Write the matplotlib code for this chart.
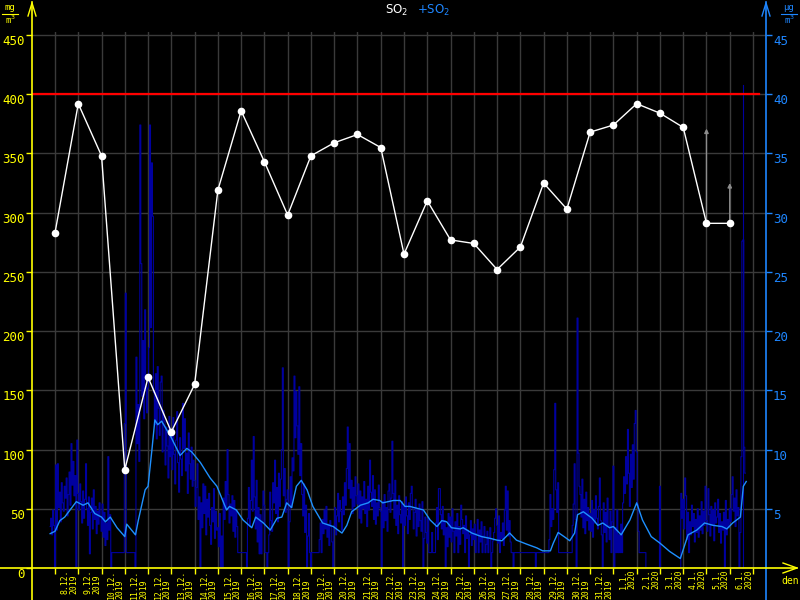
"""
SO2 daily values (white, left axis) with hourly +SO2 and its running mean
(blue, right axis) on a black monitoring-station style chart.
"""

import matplotlib
matplotlib.use("Agg")
import matplotlib.pyplot as plt
from matplotlib.lines import Line2D
from matplotlib.transforms import blended_transform_factory
import numpy as np

# ── Colours ───────────────────────────────────────────────────────────────────
BG          = "#000000"
YELLOW      = "#FFFF00"
AXIS_BLUE   = "#1E86FF"
AVG_BLUE    = "#1E90FF"
HOURLY_BLUE = "#0000A0"
GRID        = "#3A3A3A"
RED         = "#FF0000"
ARROW_GREY  = "#8C8C8C"

# ── Data ──────────────────────────────────────────────────────────────────────
day_labels = [
    "8.12.\n2019", "9.12.\n2019", "10.12.\n2019", "11.12.\n2019",
    "12.12.\n2019", "13.12.\n2019", "14.12.\n2019", "15.12.\n2019",
    "16.12.\n2019", "17.12.\n2019", "18.12.\n2019", "19.12.\n2019",
    "20.12.\n2019", "21.12.\n2019", "22.12.\n2019", "23.12.\n2019",
    "24.12.\n2019", "25.12.\n2019", "26.12.\n2019", "27.12.\n2019",
    "28.12.\n2019", "29.12.\n2019", "30.12.\n2019", "31.12.\n2019",
    "1.1.\n2020", "2.1.\n2020", "3.1.\n2020", "4.1.\n2020",
    "5.1.\n2020", "6.1.\n2020",
]

# daily SO2 (left axis)
daily_so2 = [283, 392, 348, 83, 161, 115, 155, 319, 386, 343,
             298, 348, 359, 366, 355, 265, 310, 277, 274, 252,
             271, 325, 303, 368, 374, 392, 384, 372, 291, 291]

# incomplete days: grey arrow from the point up to this value
open_days = [28, 29]
open_tops = [371, 325]

limit_value = 400

# hourly +SO2 (right axis), first value at hour -5 relative to 8.12. 00:00
hour_start = -5
hourly_pre = [3.5, 4.2, 2.8, 4.9, 3.6]
hourly_days = [
    [0, 8.7, 3.2, 8.8, 5.1, 6.4, 3.9, 7.2, 5.5, 4.8, 6.9, 5.9,
     7.6, 4.4, 6.2, 8.1, 5.3, 10.5, 7.0, 9.0, 6.1, 7.8, 0, 10.8],
    [6.3, 4.9, 7.1, 5.6, 3.8, 6.5, 4.2, 5.8, 8.8, 5.0, 3.6, 6.0,
     1.2, 4.7, 5.9, 3.3, 6.6, 4.1, 5.2, 2.9, 4.8, 3.7, 5.5, 4.3],
    [3.1, 5.4, 2.6, 4.7, 1.9, 3.8, 2.4, 9.4, 3.2, 4.5, 0, 1.3,
     1.3, 1.3, 1.3, 1.3, 1.3, 1.3, 1.3, 1.3, 1.3, 1.3, 1.3, 1.3],
    [12.2, 23.2, 1.3, 1.3, 1.3, 1.3, 1.3, 1.3, 1.3, 1.3, 1.3, 0,
     17.8, 10.5, 13.8, 9.0, 37.4, 25.7, 14.5, 19.2, 12.6, 21.8, 16.3, 13.1],
    [15.2, 18.6, 37.4, 20.3, 34.2, 29.7, 14.8, 12.1, 16.4, 10.9, 17.0, 13.5,
     11.2, 15.7, 16.2, 9.8, 13.3, 12.4, 8.7, 11.9, 10.3, 7.6, 12.8, 9.4],
    [11.5, 8.3, 12.7, 9.6, 7.1, 10.8, 13.2, 8.9, 6.4, 11.0, 9.2, 7.8,
     13.9, 10.1, 12.6, 8.2, 9.7, 6.3, 11.4, 8.8, 7.5, 10.2, 6.9, 9.1],
    [7.4, 5.2, 6.8, 8.8, 4.1, 6.0, 0, 5.5, 3.4, 7.1, 4.6, 6.9,
     2.8, 5.8, 4.3, 6.3, 3.6, 2.0, 5.1, 3.9, 6.7, 2.5, 4.8, 3.2],
    [3.4, 1.8, 4.6, 0, 2.7, 0, 5.9, 4.1, 7.3, 5.0, 10.0, 6.2,
     3.8, 5.4, 4.4, 6.1, 3.1, 5.7, 2.6, 4.9, 3.5, 1.3, 1.3, 1.3],
    [1.3, 1.3, 1.3, 1.3, 1.3, 1.3, 0, 4.2, 6.8, 3.5, 5.7, 9.1,
     4.8, 11.1, 6.0, 3.3, 7.4, 2.2, 5.1, 1.2, 4.5, 1.2, 3.8, 6.5],
    [5.3, 1.3, 1.3, 0, 1.3, 2.8, 6.4, 4.0, 3.1, 7.2, 5.5, 9.1,
     4.6, 6.8, 3.9, 8.0, 5.2, 7.5, 10.0, 16.9, 6.1, 8.4, 4.7, 5.8],
    [6.6, 0, 3.9, 7.7, 5.1, 9.3, 8.2, 16.2, 11.0, 14.9, 12.0, 9.6,
     15.3, 7.8, 10.5, 6.2, 4.4, 7.1, 3.0, 5.3, 0, 2.7, 4.6, 1.3],
    [0, 1.3, 1.3, 1.3, 1.3, 1.3, 1.3, 1.3, 1.3, 2.4, 3.8, 1.3,
     4.1, 2.9, 4.9, 3.3, 5.2, 2.6, 3.7, 1.9, 4.0, 3.5, 2.2, 0],
    [3.6, 5.1, 2.8, 4.4, 6.3, 3.9, 5.7, 4.8, 3.2, 6.0, 4.5, 7.2,
     5.3, 8.4, 11.9, 6.7, 10.5, 5.9, 7.4, 4.6, 6.8, 5.2, 7.7, 6.1],
    [5.4, 7.1, 4.2, 6.5, 3.8, 6.0, 5.0, 7.3, 4.6, 5.8, 3.5, 6.9,
     4.9, 9.1, 6.4, 5.2, 7.8, 4.1, 6.6, 3.7, 5.5, 4.4, 7.0, 5.1],
    [4.8, 0, 5.6, 3.4, 6.2, 4.0, 5.1, 3.1, 6.5, 7.1, 4.7, 5.9,
     10.7, 6.3, 4.2, 7.4, 3.6, 5.3, 2.9, 6.1, 4.5, 3.8, 5.6, 0],
    [5.2, 3.6, 6.0, 4.4, 2.9, 5.5, 4.1, 6.3, 6.9, 5.0, 3.3, 4.7,
     5.8, 2.7, 4.9, 3.5, 5.4, 4.0, 3.1, 5.6, 0, 2.5, 4.3, 3.0],
    [2.1, 4.2, 1.3, 1.3, 1.3, 3.0, 1.3, 1.3, 1.3, 3.8, 5.1, 2.4,
     6.7, 6.7, 4.5, 3.3, 5.2, 2.8, 4.0, 0, 3.4, 1.8, 4.6, 2.6],
    [4.3, 2.2, 5.0, 3.1, 1.3, 3.9, 2.7, 4.6, 1.3, 3.5, 2.0, 5.3,
     4.1, 2.9, 3.6, 1.3, 4.4, 2.5, 3.2, 0, 2.8, 4.0, 1.9, 3.3],
    [2.4, 3.7, 1.3, 2.9, 4.1, 1.3, 3.2, 2.2, 3.9, 1.3, 2.7, 3.5,
     1.3, 2.0, 3.1, 1.3, 2.6, 3.4, 0, 1.3, 2.3, 3.0, 4.2, 5.0],
    [3.6, 2.1, 4.4, 1.3, 3.0, 2.5, 3.8, 1.9, 4.9, 6.9, 3.2, 6.5,
     2.7, 4.0, 2.2, 1.3, 1.3, 0, 1.3, 1.3, 1.3, 1.3, 1.3, 1.3],
    [1.3, 1.3, 1.3, 1.3, 1.3, 1.3, 1.3, 1.3, 1.3, 1.3, 1.3, 1.3,
     1.3, 1.3, 1.3, 1.3, 0, 1.3, 1.3, 1.3, 1.3, 1.3, 1.3, 1.3],
    [1.3, 1.3, 1.3, 1.3, 1.3, 1.3, 2.4, 6.2, 3.5, 5.0, 4.1, 8.3,
     13.9, 6.6, 4.7, 7.2, 1.3, 1.3, 1.3, 1.3, 1.3, 1.3, 1.3, 1.3],
    [1.3, 1.3, 1.3, 1.3, 1.3, 1.3, 3.6, 5.4, 8.8, 4.1, 0, 21.1,
     9.7, 6.9, 6.2, 4.3, 7.5, 3.4, 5.8, 2.9, 6.4, 4.0, 5.1, 3.2],
    [4.6, 3.1, 5.7, 2.6, 4.9, 3.8, 6.1, 4.2, 3.3, 5.2, 7.6, 4.0,
     2.8, 0, 5.5, 3.0, 4.7, 2.2, 5.9, 3.6, 2.4, 4.8, 1.3, 3.9],
    [8.6, 0, 3.4, 1.3, 4.9, 1.3, 2.8, 1.3, 3.7, 1.3, 5.5, 7.7,
     6.3, 9.4, 7.1, 11.7, 8.0, 5.2, 9.6, 6.8, 10.4, 7.5, 12.2, 13.3],
    [9.8, 5.4, 3.1, 1.3, 1.3, 1.3, 1.3, 1.3, 1.3, 1.3, 0, 0,
     0, 0, 0, 0, 0, 0, 0, 0, 0, 0, 0, 0],
    [6.9, 0, 0, 0, 0, 0, 0, 0, 0, 0, 0, 0,
     0, 0, 0, 0, 0, 0, 0, 0, 0, 0, 6.3, 4.2],
    [5.8, 3.3, 7.6, 6.1, 2.4, 4.7, 1.3, 3.9, 2.8, 5.3, 3.5, 4.6,
     2.2, 4.1, 3.0, 5.0, 2.6, 4.4, 3.2, 5.6, 2.9, 4.8, 3.6, 6.9],
    [4.0, 3.1, 6.7, 4.5, 2.7, 5.2, 3.6, 4.9, 2.3, 5.5, 3.8, 4.3,
     5.8, 3.0, 4.6, 2.1, 3.9, 3.2, 4.7, 0, 5.7, 2.8, 4.1, 3.4],
    [5.0, 3.9, 6.2, 7.7, 4.8, 5.9, 3.5, 6.6, 4.4, 5.1, 0, 3.0,
     9.4, 27.6, 27.7, 10.2, 8.0],
]

# running mean of +SO2 (right axis), hour / value pairs
avg_hours = [-5, 0, 5, 10, 22, 29, 34, 41, 48, 52, 57, 64, 72, 74, 83, 86,
             93, 96, 100, 103, 106, 110, 115, 120, 129, 136, 141, 150, 160,
             167, 177, 180, 187, 194, 203, 207, 215, 222, 229, 234, 239, 244,
             249, 254, 260, 266, 276, 287, 296, 301, 306, 315, 323, 328, 335,
             338, 349, 356, 361, 366, 380, 387, 394, 399, 404, 409, 418, 421,
             430, 440, 449, 456, 461, 469, 476, 487, 497, 503, 511, 514, 519,
             526, 531, 536, 539, 545, 554, 560, 565, 572, 576, 584, 593, 600,
             606, 615, 624, 634, 645, 653, 662, 670, 679, 688, 693, 699, 707,
             710, 713]
avg_vals = [2.9, 3.1, 4.0, 4.3, 5.6, 5.3, 5.5, 4.6, 4.3, 3.9, 4.3, 3.4, 2.65,
            3.7, 2.8, 4.05, 6.6, 6.9, 10.0, 12.5, 12.1, 12.4, 11.7, 11.0, 9.5,
            10.1, 9.8, 8.9, 7.6, 6.9, 4.9, 5.2, 4.9, 4.05, 3.4, 4.3, 3.8, 3.2,
            4.2, 4.3, 5.5, 5.1, 6.9, 7.4, 6.6, 5.2, 3.8, 3.5, 2.95, 3.6, 4.75,
            5.3, 5.5, 5.8, 5.7, 5.5, 5.7, 5.7, 5.2, 5.2, 4.9, 4.05, 3.5, 4.0,
            3.9, 3.4, 3.3, 3.4, 2.95, 2.65, 2.5, 2.35, 2.3, 2.95, 2.35, 2.0,
            1.7, 1.45, 1.45, 2.1, 3.0, 2.6, 2.3, 2.95, 4.5, 4.75, 4.2, 3.6,
            3.8, 3.4, 3.5, 2.8, 4.05, 5.5, 4.05, 2.65, 2.1, 1.4, 0.8, 2.8, 3.2,
            3.8, 3.6, 3.5, 3.3, 3.8, 4.3, 6.9, 7.3]

# current-time marker (right axis units)
now_hour = 709.5
now_top = 40.8

# ── Layout (pixels of the 800x600 canvas) ─────────────────────────────────────
W, H = 800, 600
AX_L, AX_R, AX_T, AX_B = 32, 766, 32, 568
PX_PER_DAY = 23.267
DAY0_PX = 55


def fx(px):
    return px / W


def fy(py):
    return 1 - py / H


def axx(px):
    return (px - AX_L) / (AX_R - AX_L)


def axy(py):
    return (AX_B - py) / (AX_B - AX_T)


fig = plt.figure(figsize=(W / 100, H / 100), dpi=100, facecolor=BG)
ax = fig.add_axes([fx(AX_L), fy(AX_B), (AX_R - AX_L) / W, (AX_B - AX_T) / H])
ax.set_facecolor(BG)
ax2 = ax.twinx()

ymax_left = 50 * (AX_B - AX_T) / ((AX_B - 35) / 9)
ax.set_ylim(0, ymax_left)
ax2.set_ylim(0, ymax_left / 10)
ax.set_xlim((AX_L - DAY0_PX) / PX_PER_DAY, (AX_R - DAY0_PX) / PX_PER_DAY)
ax.set_autoscale_on(False)
ax2.set_autoscale_on(False)

for a in (ax, ax2):
    for spine in a.spines.values():
        spine.set_visible(False)

# ── Grid & ticks ──────────────────────────────────────────────────────────────
ax.set_xticks(range(len(day_labels) + 1))
ax.set_xticklabels([])
ax.tick_params(axis="x", colors=YELLOW, length=4, width=1, direction="out")
ax.grid(True, color=GRID, linewidth=1.0)
ax.set_axisbelow(True)

ax.set_yticks(range(0, 451, 50))
ax.tick_params(axis="y", colors=YELLOW, length=4, width=1, pad=1,
               labelsize=9)
for t in ax.yaxis.get_major_ticks():
    t.label1.set_verticalalignment("top")
    t.label1.set_fontfamily("DejaVu Sans Mono")

ax2.set_yticks(range(5, 46, 5))
ax2.tick_params(axis="y", colors=AXIS_BLUE, length=4, width=1, pad=1,
                labelsize=9)
for t in ax2.yaxis.get_major_ticks():
    t.label2.set_verticalalignment("top")
    t.label2.set_fontfamily("DejaVu Sans Mono")

# ── Series ────────────────────────────────────────────────────────────────────
hourly = np.concatenate([hourly_pre] + [np.asarray(r, float) for r in hourly_days])
hourly_t = (hour_start + np.arange(len(hourly))) / 24.0

ax.plot(hourly_t, hourly, color=HOURLY_BLUE, linewidth=0.8,
        drawstyle="steps-mid", transform=ax2.transData, zorder=2)
ax.plot([now_hour / 24.0] * 2, [0, now_top], color=HOURLY_BLUE,
        linewidth=0.8, transform=ax2.transData, zorder=2)
ax.plot(np.asarray(avg_hours) / 24.0, avg_vals, color=AVG_BLUE,
        linewidth=1.0, transform=ax2.transData, zorder=3)

ax.axhline(limit_value, xmin=0, xmax=0.99, color=RED, linewidth=1.6, zorder=4)

days = np.arange(len(daily_so2))
for d, top in zip(open_days, open_tops):
    ax.annotate("", xy=(d, top), xytext=(d, daily_so2[d]),
                arrowprops=dict(arrowstyle="-|>", color=ARROW_GREY, lw=1.0,
                                mutation_scale=6, shrinkA=0, shrinkB=0),
                zorder=5)
ax.plot(days, daily_so2, color="white", linewidth=1.0, marker="o",
        markersize=5.5, markeredgewidth=0, zorder=6)

# ── Date labels ───────────────────────────────────────────────────────────────
lbl_tr = blended_transform_factory(ax.transData, ax.transAxes)
for i, lbl in enumerate(day_labels):
    ax.text(i + 0.62, axy(AX_B + 1.5), lbl, transform=lbl_tr, rotation=90,
            ha="center", va="top", multialignment="left", linespacing=0.95,
            color=YELLOW, fontsize=5.9, fontfamily="DejaVu Sans Mono",
            clip_on=False)

# ── Axis lines with arrows ────────────────────────────────────────────────────
def ax_line(xs, ys, color, lw=1.2):
    ax.add_line(Line2D([axx(x) for x in xs], [axy(y) for y in ys],
                       transform=ax.transAxes, color=color, linewidth=lw,
                       clip_on=False, zorder=7))

ax_line([AX_L, AX_L], [H, 2], YELLOW)
ax_line([AX_L - 4, AX_L, AX_L + 4], [16, 3, 16], YELLOW, 1.0)
ax_line([AX_R, AX_R], [H, 2], AXIS_BLUE)
ax_line([AX_R - 4, AX_R, AX_R + 4], [16, 3, 16], AXIS_BLUE, 1.0)
ax_line([0, 797], [AX_B, AX_B], YELLOW)
ax_line([783, 797, 783], [563, AX_B, 573], YELLOW, 1.0)

fig.text(fx(790), fy(581), "den", color=YELLOW, fontsize=7,
         ha="center", va="center", fontfamily="DejaVu Sans Mono")

# ── Units & title ─────────────────────────────────────────────────────────────
def unit(xc, top, color):
    fig.text(fx(xc), fy(8), top, color=color, fontsize=6.5,
             ha="center", va="center", fontfamily="DejaVu Sans Mono")
    fig.add_artist(Line2D([fx(xc - 8), fx(xc + 8)], [fy(13.5), fy(13.5)],
                          color=color, linewidth=0.8))
    fig.text(fx(xc), fy(20), "m$^3$", color=color, fontsize=6.5,
             ha="center", va="center", fontfamily="DejaVu Sans Mono")

unit(10, "mg", YELLOW)
unit(789, "µg", AXIS_BLUE)

fig.text(fx(397), fy(10), "SO$_2$", color="white", fontsize=8.5,
         ha="center", va="center")
fig.text(fx(434), fy(10), "+SO$_2$", color=AXIS_BLUE, fontsize=8.5,
         ha="center", va="center")

fig.savefig("out.png", dpi=100, facecolor=BG)
